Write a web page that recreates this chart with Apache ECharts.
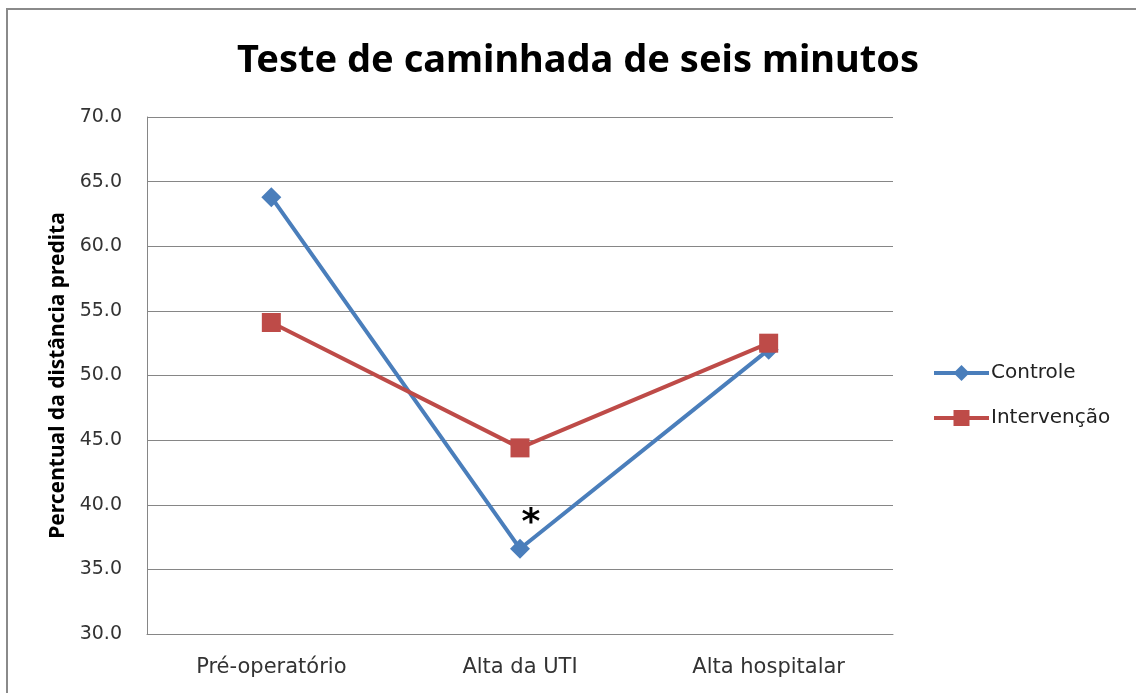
<!DOCTYPE html>
<html>
<head>
<meta charset="utf-8">
<script src="https://cdn.jsdelivr.net/npm/echarts@6/dist/echarts.min.js"></script>
<style>
  html, body { margin: 0; padding: 0; background: #fff; }
  #chart { width: 1136px; height: 693px; }
</style>
</head>
<body>
<div id="chart"></div>
<script>
// data
const categories = ['Pré-operatório', 'Alta da UTI', 'Alta hospitalar'];
const controle = [63.8, 36.6, 52.0];
const intervencao = [54.1, 44.4, 52.5];
// significance mark ("*") next to Controle at Alta da UTI
const starPoint = ['Alta da UTI', 39.0];

const yMin = 30, yMax = 70, yStep = 5;

const chart = echarts.init(document.getElementById('chart'));

const option = {
  animation: false,
  backgroundColor: '#fff',
  title: {
    text: 'Teste de caminhada de seis minutos',
    left: 573,
    textAlign: 'center',
    top: 37,
    textStyle: { fontFamily: 'Noto Sans', fontWeight: 'bold', fontSize: 38, color: '#000' }
  },
  // frame of the chart area (only left / top edges fall inside the window)
  graphic: [{
    type: 'rect',
    shape: { x: 7, y: 9, width: 1300, height: 900 },
    style: { fill: 'none', stroke: '#8a8a8a', lineWidth: 2 },
    silent: true
  }],
  legend: {
    orient: 'vertical',
    left: 927,
    top: 358,
    itemWidth: 55,
    itemHeight: 20,
    itemGap: 25,
    lineStyle: { width: 4 },
    textStyle: { fontFamily: 'DejaVu Sans', fontSize: 20, color: '#222', padding: [0, 0, 0, -3] },
    data: ['Controle', 'Intervenção']
  },
  grid: { left: 147, top: 117, width: 746, height: 517 },
  xAxis: {
    type: 'category',
    data: categories,
    boundaryGap: true,
    axisLine: { lineStyle: { color: '#868686', width: 1 } },
    axisTick: { show: false },
    axisLabel: { margin: 23, fontFamily: 'DejaVu Sans', fontSize: 21, color: '#333' }
  },
  yAxis: {
    type: 'value',
    min: yMin,
    max: yMax,
    interval: yStep,
    name: 'Percentual da distância predita',
    nameLocation: 'middle',
    nameGap: 78,
    nameRotate: 90,
    nameTextStyle: { fontFamily: 'Noto Sans', fontWeight: 'bold', fontSize: 21, color: '#000' },
    axisLine: { show: true, lineStyle: { color: '#868686', width: 1 } },
    axisTick: { show: false },
    splitLine: { lineStyle: { color: '#868686', width: 1 } },
    axisLabel: { margin: 25, formatter: v => v.toFixed(1), fontFamily: 'DejaVu Sans', fontSize: 19, color: '#333' }
  },
  series: [
    {
      name: 'Controle',
      type: 'line',
      data: controle,
      symbol: 'diamond',
      symbolSize: 20,
      lineStyle: { color: '#4A7EBB', width: 4 },
      itemStyle: { color: '#4A7EBB' },
      markPoint: {
        symbol: 'circle',
        symbolSize: 0,
        label: { show: true, formatter: '*', fontFamily: 'DejaVu Sans', fontWeight: 'bold', fontSize: 36, color: '#000', offset: [11, 6] },
        data: [{ coord: starPoint }]
      },
      z: 2
    },
    {
      name: 'Intervenção',
      type: 'line',
      data: intervencao,
      symbol: 'rect',
      symbolSize: 19,
      lineStyle: { color: '#BE4B48', width: 4 },
      itemStyle: { color: '#BE4B48' },
      z: 3
    }
  ]
};

chart.setOption(option);
</script>
</body>
</html>
